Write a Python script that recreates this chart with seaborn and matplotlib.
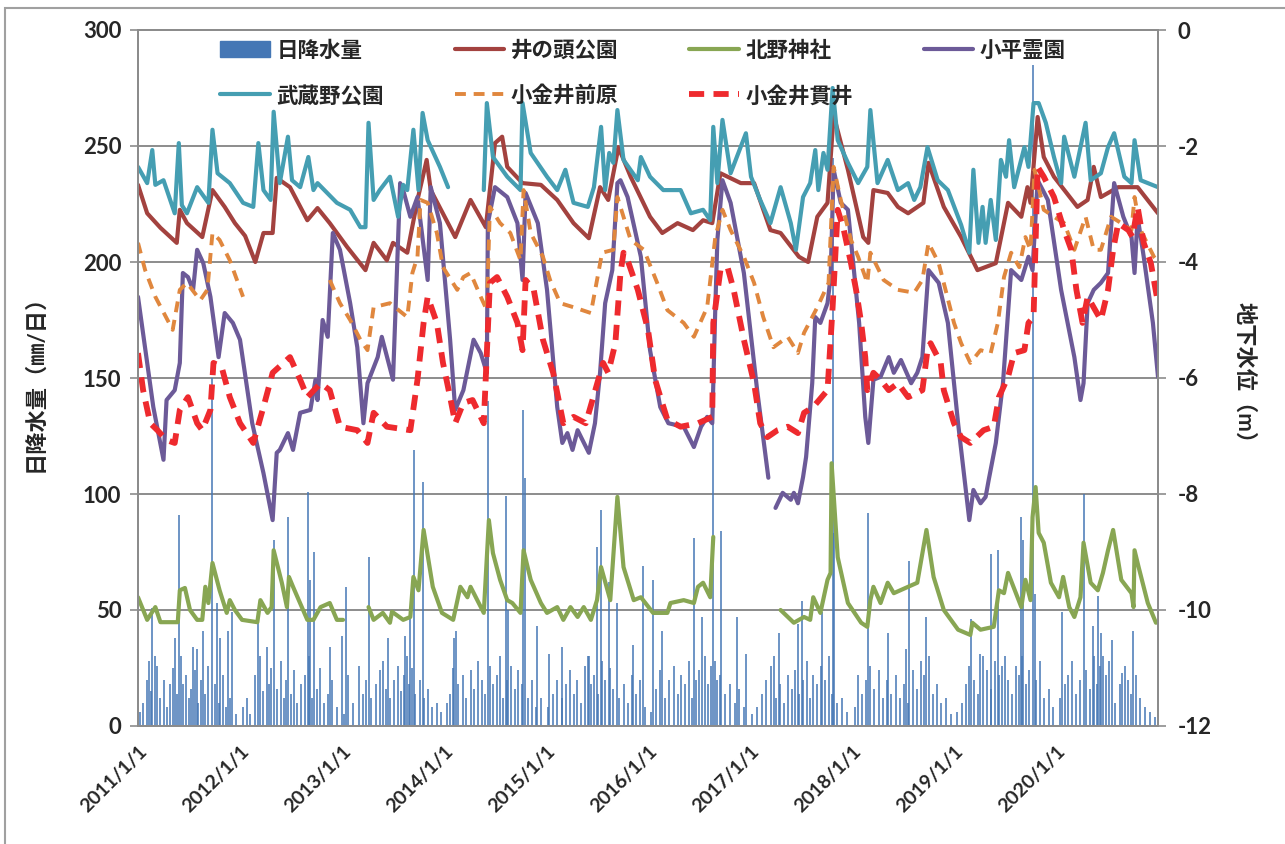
import numpy as np
import pandas as pd
import seaborn as sns
import matplotlib.pyplot as plt
from matplotlib.lines import Line2D
from matplotlib.patches import Patch, Rectangle

nan = float("nan")

# x positions are decimal years (2011.0 = 2011/1/1)
year_ticks = [2011, 2012, 2013, 2014, 2015, 2016, 2017, 2018, 2019, 2020, 2021]
year_labels = ["2011/1/1", "2012/1/1", "2013/1/1", "2014/1/1", "2015/1/1",
               "2016/1/1", "2017/1/1", "2018/1/1", "2019/1/1", "2020/1/1", ""]
rain_ticks = [0, 50, 100, 150, 200, 250, 300]
level_ticks = [0, -2, -4, -6, -8, -10, -12]

# daily precipitation (mm/day): large events
rain_peak_t = [2011.14, 2011.17, 2011.36, 2011.40, 2011.54, 2011.58, 2011.64, 2011.73, 2011.77, 2011.80,
               2011.88, 2011.92, 2012.18, 2012.26, 2012.33, 2012.47, 2012.67, 2012.69, 2012.73, 2012.88,
               2013.00, 2013.04, 2013.26, 2013.45, 2013.62, 2013.67, 2013.71, 2013.79, 2014.10, 2014.12,
               2014.43, 2014.61, 2014.63, 2014.77, 2014.79, 2014.91, 2015.03, 2015.16, 2015.42, 2015.50,
               2015.54, 2015.62, 2015.70, 2015.85, 2015.95, 2016.05, 2016.14, 2016.45, 2016.53, 2016.64,
               2016.72, 2016.87, 2016.96, 2017.24, 2017.28, 2017.47, 2017.51, 2017.71, 2017.81, 2017.82,
               2018.16, 2018.35, 2018.53, 2018.56, 2018.73, 2019.17, 2019.25, 2019.36, 2019.43, 2019.66,
               2019.68, 2019.77, 2019.79, 2020.06, 2020.27, 2020.36, 2020.41, 2020.44, 2020.55, 2020.65,
               2020.75]
rain_peak_mm = [51, 30, 38, 91, 34, 33, 41, 150, 53, 38,
                41, 49, 46, 34, 80, 90, 101, 63, 75, 34,
                39, 60, 73, 38, 39, 50, 119, 105, 38, 41,
                140, 99, 50, 136, 107, 43, 31, 34, 30, 77,
                93, 62, 53, 35, 69, 63, 41, 81, 47, 130,
                84, 47, 31, 30, 40, 44, 54, 49, 245, 83,
                92, 40, 33, 71, 47, 46, 31, 74, 76, 90,
                80, 285, 57, 49, 100, 43, 56, 40, 37, 23,
                41]

# daily precipitation (mm/day): smaller rainy days
rain_small_t = [
    2011.02, 2011.05, 2011.09, 2011.11, 2011.13, 2011.19, 2011.22, 2011.25, 2011.28, 2011.31, 2011.34, 2011.38,
    2011.42, 2011.44, 2011.47, 2011.50, 2011.52, 2011.56, 2011.59, 2011.62, 2011.66, 2011.69, 2011.75, 2011.79,
    2011.83, 2011.86, 2011.90, 2011.96,
    2012.03, 2012.07, 2012.10, 2012.15, 2012.20, 2012.23, 2012.28, 2012.30, 2012.36, 2012.40, 2012.43, 2012.45,
    2012.50, 2012.53, 2012.56, 2012.60, 2012.64, 2012.68, 2012.71, 2012.75, 2012.78, 2012.82, 2012.86, 2012.90,
    2012.95,
    2013.02, 2013.06, 2013.11, 2013.17, 2013.21, 2013.24, 2013.28, 2013.33, 2013.37, 2013.40, 2013.43, 2013.47,
    2013.51, 2013.55, 2013.58, 2013.61, 2013.64, 2013.66, 2013.69, 2013.72, 2013.76, 2013.80, 2013.84, 2013.88,
    2013.93, 2013.97,
    2014.03, 2014.06, 2014.09, 2014.14, 2014.19, 2014.22, 2014.26, 2014.29, 2014.33, 2014.37, 2014.40, 2014.45,
    2014.48, 2014.52, 2014.55, 2014.58, 2014.62, 2014.66, 2014.70, 2014.73, 2014.76, 2014.82, 2014.86, 2014.90,
    2014.95,
    2015.02, 2015.07, 2015.11, 2015.16, 2015.20, 2015.24, 2015.27, 2015.30, 2015.34, 2015.38, 2015.41, 2015.44,
    2015.47, 2015.51, 2015.55, 2015.58, 2015.63, 2015.66, 2015.72, 2015.76, 2015.80, 2015.84, 2015.88, 2015.92,
    2015.97,
    2016.03, 2016.08, 2016.12, 2016.17, 2016.21, 2016.25, 2016.29, 2016.32, 2016.36, 2016.40, 2016.43, 2016.47,
    2016.50, 2016.56, 2016.59, 2016.62, 2016.66, 2016.68, 2016.71, 2016.75, 2016.80, 2016.85, 2016.89, 2016.94,
    2017.02, 2017.07, 2017.12, 2017.16, 2017.21, 2017.25, 2017.29, 2017.33, 2017.37, 2017.41, 2017.44, 2017.48,
    2017.52, 2017.56, 2017.59, 2017.62, 2017.66, 2017.70, 2017.74, 2017.77, 2017.80, 2017.85, 2017.90, 2017.95,
    2018.03, 2018.06, 2018.10, 2018.14, 2018.18, 2018.22, 2018.26, 2018.30, 2018.34, 2018.38, 2018.43, 2018.47,
    2018.51, 2018.55, 2018.60, 2018.64, 2018.68, 2018.71, 2018.75, 2018.79, 2018.83, 2018.87, 2018.92, 2018.97,
    2019.03, 2019.08, 2019.12, 2019.15, 2019.20, 2019.24, 2019.28, 2019.32, 2019.36, 2019.40, 2019.44, 2019.47,
    2019.50, 2019.53, 2019.57, 2019.61, 2019.64, 2019.67, 2019.71, 2019.74, 2019.80, 2019.84, 2019.88, 2019.93,
    2019.97,
    2020.04, 2020.09, 2020.12, 2020.16, 2020.20, 2020.24, 2020.29, 2020.33, 2020.37, 2020.40, 2020.43, 2020.46,
    2020.49, 2020.52, 2020.58, 2020.63, 2020.68, 2020.71, 2020.74, 2020.78, 2020.82, 2020.87, 2020.92, 2020.97]
rain_small_mm = [
    6, 10, 20, 28, 15, 26, 12, 20, 8, 18, 25, 14, 30, 18, 22, 12, 16, 24, 10, 20, 14, 26, 18, 10, 22, 8, 12, 5,
    8, 12, 5, 22, 30, 15, 18, 25, 16, 28, 12, 20, 14, 24, 10, 18, 22, 30, 12, 16, 25, 10, 14, 20, 8,
    5, 22, 10, 26, 14, 20, 12, 18, 24, 28, 16, 12, 20, 26, 15, 22, 30, 18, 25, 14, 20, 12, 16, 8, 10, 6,
    10, 14, 25, 18, 22, 12, 24, 16, 28, 20, 14, 26, 18, 22, 30, 12, 20, 26, 16, 24, 18, 12, 20, 8, 12,
    8, 14, 20, 12, 18, 24, 14, 20, 10, 26, 30, 18, 22, 14, 28, 20, 25, 16, 12, 18, 10, 22, 14, 20, 8,
    6, 16, 24, 12, 20, 26, 14, 22, 18, 28, 12, 20, 24, 30, 18, 26, 28, 20, 22, 14, 18, 10, 16, 8,
    5, 8, 14, 20, 26, 12, 18, 10, 22, 16, 24, 14, 20, 28, 12, 22, 18, 26, 20, 30, 14, 10, 12, 6,
    8, 22, 14, 20, 26, 16, 24, 12, 20, 14, 22, 12, 18, 10, 24, 16, 28, 22, 30, 14, 18, 10, 12, 5,
    6, 10, 18, 26, 20, 14, 30, 24, 16, 28, 22, 26, 30, 20, 14, 26, 22, 30, 18, 24, 20, 28, 12, 16, 8,
    12, 18, 22, 28, 14, 20, 24, 16, 30, 18, 26, 30, 22, 28, 10, 18, 26, 20, 14, 22, 12, 8, 6, 4]

# groundwater levels (m); nan marks a gap in the record
inokashira_t = [2011.00, 2011.09, 2011.22, 2011.38, 2011.41, 2011.48, 2011.63, 2011.73, 2011.85, 2011.95,
                2012.05, 2012.15, 2012.23, 2012.32, 2012.36, 2012.49, 2012.66, 2012.76, 2012.88, 2013.05,
                2013.23, 2013.31, 2013.44, 2013.50, 2013.64, 2013.74, 2013.83, 2013.87, 2014.11, 2014.26,
                2014.41, 2014.50, 2014.57, 2014.62, 2014.77, 2014.95, 2015.11, 2015.27, 2015.42, 2015.53,
                2015.61, 2015.71, 2015.83, 2016.02, 2016.14, 2016.29, 2016.44, 2016.54, 2016.63, 2016.71,
                2016.91, 2017.04, 2017.20, 2017.30, 2017.48, 2017.57, 2017.66, 2017.76, 2017.82, 2017.96,
                2018.11, 2018.16, 2018.21, 2018.35, 2018.45, 2018.55, 2018.70, 2018.75, 2018.90, 2019.07,
                2019.23, 2019.41, 2019.53, 2019.66, 2019.72, 2019.75, 2019.82, 2019.88, 2019.98, 2020.21,
                2020.31, 2020.37, 2020.44, 2020.61, 2020.80, 2021.00]
inokashira_m = [-2.67, -3.16, -3.41, -3.67, -3.10, -3.33, -3.57, -2.76, -3.05, -3.33,
                -3.55, -4.00, -3.50, -3.50, -2.55, -2.71, -3.28, -3.07, -3.33, -3.74,
                -4.14, -3.67, -3.97, -3.67, -3.84, -2.93, -2.24, -2.76, -3.57, -2.93,
                -3.40, -1.95, -1.84, -2.36, -2.64, -2.67, -2.93, -3.33, -3.59, -2.71,
                -2.93, -2.02, -2.53, -3.22, -3.50, -3.33, -3.45, -3.28, -3.33, -2.47,
                -2.64, -2.64, -3.45, -3.50, -3.91, -4.00, -3.22, -2.98, -1.47, -2.41,
                -3.57, -3.67, -2.76, -2.81, -3.05, -3.16, -2.98, -2.29, -3.05, -3.57,
                -4.14, -4.02, -2.98, -3.22, -2.71, -2.98, -1.50, -2.19, -2.53, -3.05,
                -2.93, -2.36, -2.88, -2.71, -2.71, -3.16]

kitano_t = [2011.00, 2011.09, 2011.17, 2011.22, 2011.39, 2011.41, 2011.46, 2011.51, 2011.58, 2011.63,
            2011.66, 2011.69, 2011.73, 2011.80, 2011.87, 2011.90, 2011.95, 2012.02, 2012.17, 2012.20,
            2012.27, 2012.31, 2012.33, 2012.41, 2012.46, 2012.48, 2012.52, 2012.66, 2012.72, 2012.79,
            2012.88, 2012.95, 2013.01, nan,
            2013.26, 2013.31, 2013.40, 2013.47, 2013.49, 2013.60, 2013.67, 2013.70, 2013.75, 2013.80,
            2013.89, 2013.98, 2014.09, 2014.16, 2014.23, 2014.26, 2014.39, 2014.44, 2014.48, 2014.55,
            2014.62, 2014.67, 2014.75, 2014.78, 2014.85, 2014.95, 2015.01, 2015.11, 2015.17, 2015.24,
            2015.31, 2015.37, 2015.44, 2015.50, 2015.54, 2015.63, 2015.70, 2015.76, 2015.86, 2015.93,
            2016.05, 2016.19, 2016.22, 2016.35, 2016.45, 2016.49, 2016.54, 2016.61, 2016.64, nan,
            2017.30, 2017.43, 2017.53, 2017.59, 2017.62, 2017.69, 2017.76, 2017.79, 2017.80, 2017.86,
            2017.96, 2018.09, 2018.15, 2018.18, 2018.21, 2018.28, 2018.35, 2018.41, 2018.55, 2018.64,
            2018.73, 2018.80, 2018.90, 2019.04, 2019.16, 2019.18, 2019.26, 2019.39, 2019.44, 2019.49,
            2019.53, 2019.66, 2019.70, 2019.75, 2019.77, 2019.80, 2019.83, 2019.88, 2019.95, 2020.03,
            2020.07, 2020.13, 2020.18, 2020.24, 2020.27, 2020.34, 2020.41, 2020.46, 2020.51, 2020.56,
            2020.64, 2020.74, 2020.76, 2020.77, 2020.81, 2020.90, 2020.98]
kitano_m = [-9.78, -10.17, -9.95, -10.21, -10.21, -9.66, -9.62, -10.00, -10.17, -10.17,
            -9.60, -9.88, -9.19, -9.66, -10.05, -9.83, -10.00, -10.17, -10.21, -9.83,
            -10.05, -9.95, -8.97, -9.53, -9.95, -9.43, -9.60, -10.17, -10.17, -9.95,
            -9.88, -10.17, -10.17, nan,
            -9.95, -10.17, -10.05, -10.22, -10.03, -10.17, -10.12, -9.43, -9.66, -8.62,
            -9.60, -10.05, -10.17, -9.60, -9.78, -9.60, -10.05, -8.45, -9.02, -9.48,
            -9.83, -9.88, -10.05, -8.97, -9.48, -9.88, -10.05, -9.95, -10.17, -9.95,
            -10.12, -9.95, -10.17, -9.83, -9.26, -9.83, -8.05, -9.26, -9.83, -9.78,
            -10.05, -10.05, -9.88, -9.83, -9.88, -9.60, -9.53, -9.78, -8.74, nan,
            -10.00, -10.22, -10.12, -10.17, -9.78, -10.05, -9.48, -9.36, -7.47, -9.09,
            -9.88, -10.22, -10.29, -9.83, -9.60, -9.88, -9.53, -9.71, -9.60, -9.53,
            -8.62, -9.43, -10.00, -10.34, -10.43, -10.22, -10.34, -10.29, -9.66, -9.71,
            -9.36, -9.95, -9.48, -9.83, -8.40, -7.88, -8.67, -8.84, -9.53, -9.78,
            -9.43, -9.95, -10.12, -9.78, -8.84, -9.53, -9.66, -9.36, -8.97, -8.62,
            -9.48, -9.71, -9.95, -8.97, -9.26, -9.88, -10.22]

kodaira_t = [2011.00, 2011.15, 2011.25, 2011.28, 2011.36, 2011.41, 2011.44, 2011.49, 2011.54, 2011.58,
             2011.64, 2011.71, 2011.79, 2011.85, 2011.93, 2012.00, 2012.12, 2012.23, 2012.32, 2012.36,
             2012.39, 2012.47, 2012.52, 2012.59, 2012.69, 2012.74, 2012.76, 2012.81, 2012.86, 2012.91,
             2012.98, 2013.08, 2013.15, 2013.21, 2013.25, 2013.35, 2013.39, 2013.50, 2013.57, 2013.60,
             2013.67, 2013.74, 2013.84, 2013.87, 2013.96, 2014.06, 2014.11, 2014.19, 2014.29, 2014.36,
             2014.42, 2014.43, 2014.50, 2014.62, 2014.72, 2014.77, 2014.80, 2014.92, 2015.01, 2015.11,
             2015.16, 2015.21, 2015.26, 2015.31, 2015.42, 2015.48, 2015.53, 2015.58, 2015.65, 2015.70,
             2015.73, 2015.80, 2015.93, 2016.02, 2016.12, 2016.20, 2016.35, 2016.45, 2016.52, 2016.58,
             2016.63, 2016.66, 2016.68, 2016.73, 2016.81, 2016.94, 2017.07, 2017.18, nan,
             2017.25, 2017.32, 2017.40, 2017.43, 2017.47, 2017.52, 2017.55, 2017.61, 2017.64, 2017.69,
             2017.76, 2017.79, 2017.82, 2017.89, 2017.96, 2018.07, 2018.13, 2018.16, 2018.21, 2018.28,
             2018.36, 2018.41, 2018.48, 2018.58, 2018.64, 2018.69, 2018.75, 2018.85, 2018.94, 2019.04,
             2019.15, 2019.19, 2019.26, 2019.31, 2019.34, 2019.41, 2019.48, 2019.56, 2019.66, 2019.73,
             2019.77, 2019.82, 2019.92, 2020.05, 2020.18, 2020.24, 2020.27, 2020.31, 2020.37, 2020.44,
             2020.51, 2020.57, 2020.66, 2020.74, 2020.77, 2020.80, 2020.86, 2020.95, 2021.00]
kodaira_m = [-4.60, -6.50, -7.41, -6.38, -6.21, -5.74, -4.19, -4.26, -4.48, -3.79,
             -4.02, -4.60, -5.64, -4.88, -5.05, -5.34, -6.78, -7.64, -8.45, -7.29,
             -7.24, -6.95, -7.24, -6.60, -6.55, -6.03, -6.38, -5.00, -5.29, -3.50,
             -3.79, -4.71, -5.47, -6.78, -6.09, -5.64, -5.29, -6.03, -2.64, -2.76,
             -3.22, -2.88, -4.31, -2.71, -3.33, -5.34, -6.55, -6.21, -5.34, -5.57,
             -5.91, -3.33, -2.71, -2.88, -3.33, -4.31, -2.81, -3.33, -4.48, -6.50,
             -7.12, -6.95, -7.24, -6.90, -7.29, -6.78, -5.91, -4.71, -4.14, -2.64,
             -2.59, -2.88, -3.91, -5.52, -6.50, -6.78, -6.84, -7.19, -6.84, -6.67,
             -6.78, -4.78, -3.62, -2.59, -2.98, -4.19, -6.21, -7.72, nan,
             -8.24, -7.98, -8.10, -7.98, -8.16, -7.71, -7.36, -6.09, -4.95, -5.05,
             -4.71, -4.26, -2.41, -2.98, -3.10, -5.05, -6.67, -7.12, -6.03, -5.98,
             -5.64, -5.91, -5.69, -6.09, -5.91, -5.64, -4.14, -4.36, -5.05, -6.78,
             -8.45, -7.93, -8.16, -8.05, -7.76, -7.12, -6.09, -4.14, -4.31, -3.91,
             -4.14, -2.59, -2.93, -4.48, -5.64, -6.38, -6.09, -4.71, -4.48, -4.36,
             -4.19, -2.64, -3.22, -3.57, -4.19, -3.22, -3.91, -5.05, -5.98]

musashino_t = [2011.00, 2011.09, 2011.14, 2011.17, 2011.25, 2011.36, 2011.40, 2011.43, 2011.48, 2011.58,
               2011.69, 2011.73, 2011.78, 2011.90, 2012.03, 2012.13, 2012.18, 2012.23, 2012.30, 2012.33,
               2012.39, 2012.47, 2012.51, 2012.59, 2012.67, 2012.72, 2012.76, 2012.95, 2013.08, 2013.18,
               2013.23, 2013.26, 2013.31, 2013.37, 2013.47, 2013.55, 2013.60, 2013.64, 2013.70, 2013.75,
               2013.79, 2013.84, 2013.96, 2014.04, nan,
               2014.39, 2014.42, 2014.48, 2014.62, 2014.75, 2014.77, 2014.85, 2015.01, 2015.11, 2015.19,
               2015.27, 2015.41, 2015.47, 2015.54, 2015.58, 2015.62, 2015.66, 2015.70, 2015.76, 2015.90,
               2015.93, 2016.02, 2016.15, 2016.32, 2016.42, 2016.54, 2016.61, 2016.64, 2016.68, 2016.73,
               2016.81, 2016.96, 2017.01, 2017.10, 2017.20, 2017.30, 2017.40, 2017.45, 2017.52, 2017.59,
               2017.64, 2017.67, 2017.72, 2017.76, 2017.81, 2017.86, 2017.96, 2018.06, 2018.15, 2018.18,
               2018.25, 2018.35, 2018.45, 2018.55, 2018.61, 2018.67, 2018.74, 2018.84, 2018.94, 2019.07,
               2019.15, 2019.19, 2019.24, 2019.28, 2019.31, 2019.36, 2019.41, 2019.46, 2019.51, 2019.54,
               2019.59, 2019.69, 2019.73, 2019.78, 2019.83, 2019.90, 2019.98, 2020.05, 2020.08, 2020.18,
               2020.29, 2020.34, 2020.44, 2020.51, 2020.57, 2020.67, 2020.74, 2020.77, 2020.83, 2021.00]
musashino_m = [-2.36, -2.64, -2.07, -2.67, -2.59, -3.16, -1.95, -3.02, -3.16, -2.71,
               -2.98, -1.72, -2.47, -2.64, -2.98, -3.05, -1.95, -2.76, -2.93, -1.41,
               -2.64, -1.84, -2.59, -2.71, -2.19, -2.76, -2.64, -2.98, -3.10, -3.40,
               -3.40, -1.60, -2.93, -2.76, -2.53, -3.22, -2.67, -2.76, -1.72, -2.76,
               -1.43, -1.90, -2.36, -2.71, nan,
               -2.76, -1.26, -2.19, -2.53, -2.76, -1.26, -2.12, -2.53, -2.76, -2.41,
               -2.98, -3.05, -2.71, -1.67, -2.76, -2.12, -2.29, -1.38, -2.24, -2.59,
               -2.19, -2.53, -2.76, -2.76, -3.16, -3.10, -3.28, -1.67, -2.64, -1.55,
               -2.47, -1.78, -2.53, -2.93, -3.33, -2.71, -3.33, -3.79, -2.88, -2.64,
               -2.07, -2.76, -2.12, -2.41, -1.00, -1.90, -2.29, -2.64, -2.36, -1.38,
               -2.64, -2.24, -2.76, -2.64, -2.93, -2.71, -2.02, -2.59, -2.76, -3.36,
               -3.84, -2.41, -3.67, -3.05, -3.67, -2.93, -3.62, -2.24, -2.53, -1.90,
               -2.71, -2.02, -2.36, -1.26, -1.26, -1.60, -2.19, -2.64, -1.84, -2.53,
               -1.60, -2.59, -2.47, -2.02, -1.78, -2.53, -2.64, -1.90, -2.59, -2.71]

maehara_t = [2011.00, 2011.07, 2011.17, 2011.34, 2011.41, 2011.48, 2011.61, 2011.68, 2011.73, 2011.80,
             2011.90, 2012.03, nan,
             2012.88, 2012.98, 2013.08, 2013.18, 2013.25, 2013.31, 2013.47, 2013.64, 2013.69, 2013.74,
             2013.77, 2013.84, 2013.93, 2013.99, 2014.13, 2014.19, 2014.26, 2014.36, 2014.42, 2014.45,
             2014.55, 2014.65, 2014.75, 2014.78, 2014.85, 2014.97, 2015.04, 2015.14, 2015.27, 2015.44,
             2015.55, 2015.66, 2015.70, 2015.83, 2015.96, 2016.09, 2016.19, 2016.35, 2016.45, 2016.58,
             2016.66, 2016.73, 2016.81, 2016.94, 2017.04, 2017.13, 2017.23, 2017.37, 2017.47, 2017.53,
             2017.66, 2017.77, 2017.82, 2017.89, 2017.99, 2018.06, 2018.15, 2018.18, 2018.31, 2018.45,
             2018.61, 2018.69, 2018.75, 2018.85, 2019.00, 2019.07, 2019.16, 2019.26, 2019.36, 2019.43,
             2019.49, 2019.56, 2019.64, 2019.70, 2019.75, 2019.79, 2019.88, 2019.98, 2020.08, 2020.18,
             2020.29, 2020.37, 2020.44, 2020.54, 2020.64, 2020.74, 2020.77, 2020.83, 2020.96, 2021.00]
maehara_m = [-3.67, -4.14, -4.60, -5.17, -4.48, -4.36, -4.66, -4.48, -3.50, -3.62,
             -3.97, -4.60, nan,
             -4.31, -4.71, -5.00, -5.34, -5.52, -4.78, -4.71, -4.95, -4.19, -3.91,
             -2.93, -2.98, -3.50, -4.09, -4.48, -4.26, -4.19, -4.60, -4.83, -3.05,
             -3.33, -3.50, -3.97, -2.76, -3.50, -3.91, -4.31, -4.71, -4.78, -4.88,
             -3.84, -3.79, -2.88, -3.62, -3.79, -4.36, -4.83, -5.05, -5.29, -4.78,
             -3.57, -3.10, -3.45, -3.91, -4.36, -4.95, -5.47, -5.29, -5.57, -5.22,
             -4.78, -4.36, -2.36, -2.93, -3.62, -3.91, -4.36, -3.84, -4.31, -4.48,
             -4.53, -4.31, -3.67, -4.02, -5.05, -5.40, -5.74, -5.52, -5.57, -5.05,
             -4.26, -3.84, -4.09, -3.57, -3.79, -2.41, -3.10, -3.22, -3.33, -3.79,
             -3.22, -3.79, -3.79, -3.22, -3.33, -3.45, -2.88, -3.45, -3.91, -4.00]

nukui_t = [2011.00, 2011.05, 2011.12, 2011.19, 2011.28, 2011.36, 2011.41, 2011.49, 2011.58, 2011.63,
           2011.71, 2011.74, 2011.82, 2011.90, 2012.00, 2012.13, 2012.23, 2012.32, 2012.49, 2012.59,
           2012.66, 2012.79, 2012.88, 2012.98, 2013.15, 2013.25, 2013.31, 2013.44, 2013.67, 2013.74,
           2013.80, 2013.84, 2013.93, 2013.99, 2014.06, 2014.11, 2014.19, 2014.28, 2014.39, 2014.45,
           2014.52, 2014.62, 2014.72, 2014.77, 2014.80, 2014.88, 2014.97, 2015.07, 2015.17, 2015.27,
           2015.39, 2015.56, 2015.61, 2015.68, 2015.73, 2015.76, 2015.81, 2015.90, 2016.00, 2016.07,
           2016.19, 2016.32, 2016.49, 2016.63, 2016.64, 2016.71, 2016.78, 2016.84, 2016.94, 2017.04,
           2017.10, 2017.17, 2017.27, 2017.37, 2017.47, 2017.53, 2017.62, 2017.76, 2017.81, 2017.86,
           2017.92, 2017.99, 2018.04, 2018.09, 2018.13, 2018.15, 2018.21, 2018.28, 2018.36, 2018.45,
           2018.55, 2018.69, 2018.74, 2018.77, 2018.87, 2018.90, 2019.00, 2019.07, 2019.16, 2019.29,
           2019.39, 2019.44, 2019.53, 2019.59, 2019.69, 2019.73, 2019.78, 2019.82, 2019.88, 2019.98,
           2020.08, 2020.15, 2020.20, 2020.26, 2020.31, 2020.44, 2020.51, 2020.56, 2020.61, 2020.71,
           2020.75, 2020.80, 2020.86, 2020.93, 2021.00]
nukui_m = [-5.57, -6.21, -6.78, -6.90, -7.07, -7.12, -6.55, -6.33, -6.78, -6.90,
           -6.55, -5.74, -5.81, -6.33, -6.78, -7.12, -6.50, -5.91, -5.64, -6.03,
           -6.33, -6.09, -6.21, -6.84, -6.90, -7.12, -6.60, -6.84, -6.90, -6.03,
           -5.05, -4.60, -5.05, -5.74, -6.33, -6.78, -6.43, -6.38, -6.78, -4.36,
           -4.26, -4.60, -5.05, -5.52, -4.31, -4.48, -5.34, -5.91, -6.78, -6.67,
           -6.78, -5.74, -5.91, -5.40, -4.19, -3.84, -4.02, -4.48, -5.17, -6.03,
           -6.72, -6.84, -6.78, -6.67, -5.05, -4.14, -4.09, -4.48, -5.34, -6.09,
           -6.78, -7.02, -6.90, -6.84, -6.95, -6.60, -6.50, -6.21, -4.78, -3.10,
           -3.45, -4.02, -4.48, -5.05, -5.64, -6.21, -5.91, -6.03, -6.21, -6.09,
           -6.33, -6.21, -5.52, -5.40, -5.74, -6.21, -6.78, -7.02, -7.12, -6.90,
           -6.84, -6.33, -5.98, -5.57, -5.52, -5.05, -4.95, -2.36, -2.53, -2.88,
           -3.45, -3.79, -4.48, -5.05, -4.60, -5.00, -4.48, -3.79, -3.33, -3.45,
           -3.57, -3.05, -3.67, -4.02, -4.71]

rain_color = "#4577B5"
grid_color = "#8C8C8C"

# name, times, levels, colour, line width, line style
series = [
    ("井の頭公園", inokashira_t, inokashira_m, "#A3423F", 3.0, "-"),
    ("北野神社", kitano_t, kitano_m, "#88A653", 3.0, "-"),
    ("小平霊園", kodaira_t, kodaira_m, "#6C5A98", 3.0, "-"),
    ("武蔵野公園", musashino_t, musashino_m, "#459EB2", 3.0, "-"),
    ("小金井前原", maehara_t, maehara_m, "#E0873E", 2.8, (0, (2.8, 2.0))),
    ("小金井貫井", nukui_t, nukui_m, "#EE2A2E", 4.2, (0, (2.6, 1.6))),
]


def to_frame(t, m):
    df = pd.DataFrame({"t": t, "m": m})
    df["seg"] = df["m"].isna().cumsum()
    return df.dropna()


sns.set_style("white")
plt.rcParams["font.family"] = ["Lato", "Noto Sans CJK JP", "DejaVu Sans"]
plt.rcParams["font.weight"] = "bold"

fig = plt.figure(figsize=(12.85, 8.44), dpi=100)
ax = fig.add_axes([138 / 1285, 1 - 726 / 844, 1020 / 1285, 696 / 844])
ax2 = ax.twinx()

# precipitation bars on the left axis
rain = pd.DataFrame({"t": rain_small_t + rain_peak_t, "mm": rain_small_mm + rain_peak_mm})
ax.vlines(rain["t"], 0, rain["mm"], color=rain_color, linewidth=1.1)

ax.set_xlim(2011, 2021)
ax.set_ylim(0, 300)
ax.set_yticks(rain_ticks)
ax.set_yticklabels([str(v) for v in rain_ticks], fontsize=16, fontweight="bold")
ax.set_xticks(year_ticks)
ax.set_xticklabels(year_labels, rotation=45, ha="right", rotation_mode="anchor",
                   fontsize=14, fontweight="bold")
ax.set_axisbelow(True)
ax.yaxis.grid(True, color=grid_color, linewidth=1.4)
ax.xaxis.grid(False)
ax.tick_params(axis="both", direction="out", length=6, width=1.2, color=grid_color, pad=6)
ax.tick_params(axis="x", length=7, pad=5)
ax.set_ylabel("日降水量（㎜/日）", fontsize=16, fontweight="bold")
ax.yaxis.set_label_coords(-0.091, 0.5)

# groundwater lines on the right axis
for name, t, m, color, lw, ls in series:
    sns.lineplot(data=to_frame(t, m), x="t", y="m", units="seg", estimator=None, sort=False,
                 color=color, linewidth=lw, linestyle=ls, ax=ax2, legend=False)

ax2.set_ylim(-12, 0)
ax2.set_yticks(level_ticks)
ax2.set_yticklabels([str(v) for v in level_ticks], fontsize=16, fontweight="bold")
ax2.tick_params(axis="y", direction="out", length=6, width=1.2, color=grid_color, pad=8)
ax2.set_xlabel("")
ax2.set_ylabel("地下水位（m）", fontsize=16, fontweight="bold", rotation=-90, va="center")
ax2.yaxis.set_label_coords(1.085, 0.5)

for a in (ax, ax2):
    for sp in a.spines.values():
        sp.set_color(grid_color)
        sp.set_linewidth(1.4)

# legend laid out row by row in 4 columns
handles = {"日降水量": Patch(facecolor=rain_color, edgecolor=rain_color)}
for name, t, m, color, lw, ls in series:
    handles[name] = Line2D([], [], color=color, linewidth=lw, linestyle=ls)
order = ["日降水量", "武蔵野公園", "井の頭公園", "小金井前原", "北野神社", "小金井貫井", "小平霊園"]
leg = ax2.legend([handles[k] for k in order], order, ncol=4, loc="upper left",
                 bbox_to_anchor=(0.066, 1.008), frameon=False, fontsize=15.5,
                 handlelength=2.3, handleheight=0.8, handletextpad=0.3,
                 columnspacing=3.3, labelspacing=1.15, borderaxespad=0.3)
for txt in leg.get_texts():
    txt.set_fontweight("bold")

# chart area border
fig.patches.append(Rectangle((0.004, -0.02), 1.2, 1.01, transform=fig.transFigure,
                             fill=False, edgecolor="#A0A0A0", linewidth=1.5))

fig.savefig("out.png", dpi=100)
